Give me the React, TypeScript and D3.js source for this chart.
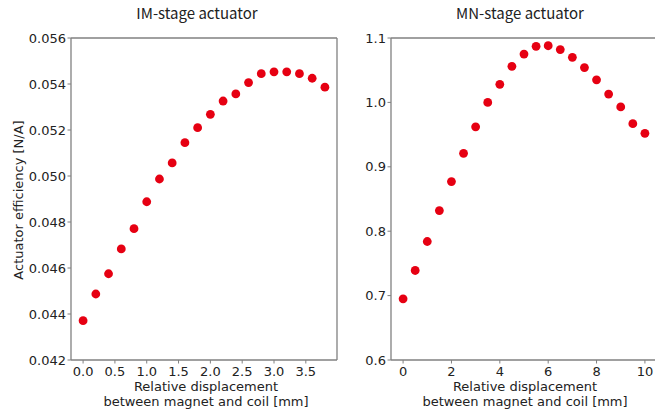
import React from "react";
import * as d3 from "d3";

const imX = [0, 0.2, 0.4, 0.6, 0.8, 1.0, 1.2, 1.4, 1.6, 1.8, 2.0, 2.2, 2.4, 2.6, 2.8, 3.0, 3.2, 3.4, 3.6, 3.8];
const imY = [0.04371, 0.04487, 0.04575, 0.04683, 0.04771, 0.04888, 0.04987, 0.05057, 0.05145, 0.0521, 0.05268, 0.05326, 0.05357, 0.05406, 0.05445, 0.05453, 0.05453, 0.05445, 0.05425, 0.05386];
const imXTicks = [0, 0.5, 1.0, 1.5, 2.0, 2.5, 3.0, 3.5];
const imYTicks = [0.042, 0.044, 0.046, 0.048, 0.05, 0.052, 0.054, 0.056];

const mnX = [0, 0.5, 1, 1.5, 2, 2.5, 3, 3.5, 4, 4.5, 5, 5.5, 6, 6.5, 7, 7.5, 8, 8.5, 9, 9.5, 10];
const mnY = [0.695, 0.739, 0.784, 0.832, 0.877, 0.921, 0.962, 1.0, 1.028, 1.056, 1.075, 1.087, 1.088, 1.082, 1.07, 1.054, 1.035, 1.013, 0.993, 0.967, 0.952];
const mnXTicks = [0, 2, 4, 6, 8, 10];
const mnYTicks = [0.6, 0.7, 0.8, 0.9, 1.0, 1.1];

const W = 655, H = 410;
const top = 38, bottom = 360;
const tickFont = "'DejaVu Sans', sans-serif";
const titleFont = "'Noto Sans CJK JP', 'Noto Sans', sans-serif";
const textColor = "#222";
const spineColor = "#808080";
const red = "#e60012";
const fs = 13;

type PanelProps = {
  xs: number[]; ys: number[];
  xDomain: [number, number]; yDomain: [number, number];
  xTicks: number[]; yTicks: number[];
  xFmt: (v: number) => string; yFmt: (v: number) => string;
  left: number; right: number; title: string; titleX: number; labelX: number;
  rightSpine: boolean;
};

function Panel(p: PanelProps) {
  const x = d3.scaleLinear().domain(p.xDomain).range([p.left, p.right]);
  const y = d3.scaleLinear().domain(p.yDomain).range([bottom, top]);
  return (
    <g>
      <text x={p.titleX} y={19} textAnchor="middle" fontFamily={titleFont} fontSize={15} fill={textColor}>{p.title}</text>
      {p.xs.map((v, i) => (
        <circle key={i} cx={x(v)} cy={y(p.ys[i])} r={4.4} fill={red} />
      ))}
      <line x1={p.left} x2={p.left} y1={top} y2={bottom} stroke={spineColor} strokeWidth={1.3} />
      <line x1={p.left} x2={p.right} y1={bottom} y2={bottom} stroke={spineColor} strokeWidth={1.3} />
      <line x1={p.left} x2={p.right} y1={top} y2={top} stroke={spineColor} strokeWidth={1.3} />
      {p.rightSpine && <line x1={p.right} x2={p.right} y1={top} y2={bottom} stroke={spineColor} strokeWidth={1.3} />}
      {p.yTicks.map((t) => (
        <g key={"y" + t}>
          <line x1={p.left - 3.5} x2={p.left} y1={y(t)} y2={y(t)} stroke={spineColor} strokeWidth={1} />
          <text x={p.left - 5} y={y(t)} dy="0.36em" textAnchor="end" fontFamily={tickFont} fontSize={fs} fill={textColor}>{p.yFmt(t)}</text>
        </g>
      ))}
      {p.xTicks.map((t) => (
        <g key={"x" + t}>
          <line x1={x(t)} x2={x(t)} y1={bottom} y2={bottom + 3.5} stroke={spineColor} strokeWidth={1} />
          <text x={x(t)} y={bottom + 16} textAnchor="middle" fontFamily={tickFont} fontSize={fs} fill={textColor}>{p.xFmt(t)}</text>
        </g>
      ))}
      <text x={p.labelX} y={390.5} textAnchor="middle" fontFamily={tickFont} fontSize={fs} fill={textColor}>Relative displacement</text>
      <text x={p.labelX} y={405.5} textAnchor="middle" fontFamily={tickFont} fontSize={fs} fill={textColor}>between magnet and coil [mm]</text>
    </g>
  );
}

export default function App() {
  return (
    <svg width={W} height={H} style={{ position: "absolute", left: 0, top: 0, background: "#fff" }}>
      <rect width={W} height={H} fill="#fff" />
      <Panel xs={imX} ys={imY} xDomain={[-0.19, 3.99]} yDomain={[0.042, 0.056]}
        xTicks={imXTicks} yTicks={imYTicks} xFmt={d3.format(".1f")} yFmt={d3.format(".3f")}
        left={71} right={337} title="IM-stage actuator" titleX={197} labelX={206} rightSpine={true} />
      <Panel xs={mnX} ys={mnY} xDomain={[-0.5, 10.5]} yDomain={[0.6, 1.1]}
        xTicks={mnXTicks} yTicks={mnYTicks} xFmt={d3.format("d")} yFmt={d3.format(".1f")}
        left={391} right={657} title="MN-stage actuator" titleX={520} labelX={525} rightSpine={false} />
      <text transform={`translate(23,${(top + bottom) / 2 + 1}) rotate(-90)`} textAnchor="middle" fontFamily={tickFont} fontSize={fs} fill={textColor}>Actuator efficiency [N/A]</text>
    </svg>
  );
}
